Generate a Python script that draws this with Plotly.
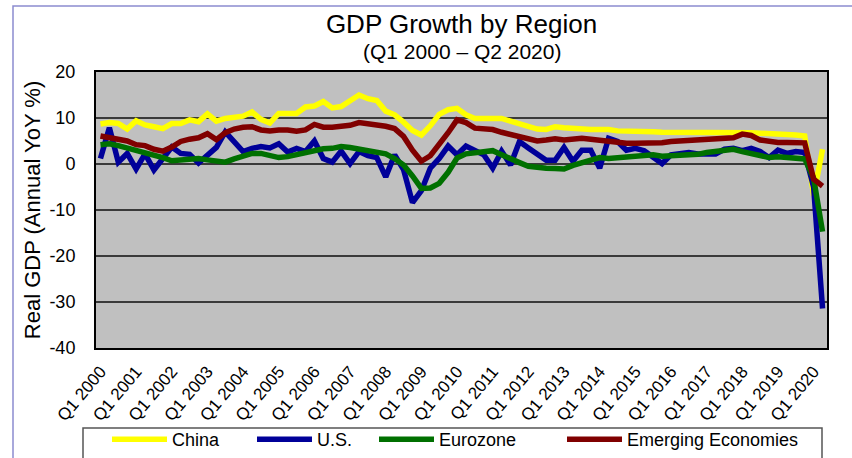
import plotly.graph_objects as go

# quarters Q1 2000 .. Q2 2020
quarters = [f"Q{q} {y}" for y in range(2000, 2021) for q in range(1, 5)][:82]

china = [8.7, 9.0, 8.8, 7.6, 9.4, 8.5, 8.1, 7.7, 8.8, 8.8, 9.6, 9.2, 10.9, 9.3,
         9.9, 10.1, 10.4, 11.3, 9.7, 8.9, 11.0, 11.0, 11.0, 12.4, 12.6, 13.6, 12.2, 12.5,
         13.8, 15.0, 14.2, 13.8, 11.5, 10.7, 9.1, 7.3, 6.3, 8.3, 10.8, 11.8, 12.1,
         10.7, 9.9, 9.9, 10.1, 9.9, 9.3, 8.8, 8.3, 7.6, 7.5, 8.1, 7.9, 7.7,
         7.8, 7.5, 7.5, 7.5, 7.2, 7.2, 7.1, 7.0, 7.0, 6.9, 6.9, 6.9, 6.9, 6.9,
         7.0, 7.0, 6.9, 6.9, 7.0, 6.8, 6.7, 6.5, 6.4, 6.4, 6.3, 6.1, -6.8, 3.2]

us = [1.2, 7.9, 0.4, 2.3, -1.1, 2.2, -1.3, 1.2, 3.7, 2.3, 2.1, 0.2, 2.0,
      3.6, 7.0, 4.9, 2.7, 3.4, 3.8, 3.5, 4.4, 2.6, 3.4, 2.7, 5.0, 1.2, 0.4, 2.8,
      0.1, 2.7, 1.8, 1.4, -2.8, 2.0, -1.2, -8.4, -5.8, -0.9, 1.2, 3.9, 2.0,
      3.9, 2.9, 2.0, -0.9, 2.8, -0.2, 4.9, 3.5, 2.1, 0.8, 0.8, 3.6, 0.6,
      3.0, 3.0, -0.9, 5.6, 4.9, 3.0, 3.4, 2.9, 1.6, 0.1, 2.0, 2.2, 2.5, 2.2,
      2.2, 2.2, 3.2, 3.4, 2.9, 3.4, 2.7, 1.4, 3.0, 2.3, 2.7, 2.5, -5.0, -31.4]

eurozone = [4.2, 4.4, 4.0, 3.5, 3.1, 2.6, 2.0, 1.4, 0.7, 0.9, 1.1, 1.2, 0.9, 0.5,
            0.4, 1.1, 1.8, 2.3, 2.3, 2.0, 1.4, 1.6, 2.0, 2.3, 3.0, 3.3, 3.4, 3.8,
            3.6, 3.2, 3.0, 2.4, 2.2, 1.2, -0.2, -2.6, -5.3, -5.2, -4.2, -1.8, 1.3,
            2.2, 2.5, 2.5, 2.9, 2.0, 1.3, 0.3, -0.5, -0.8, -0.9, -1.0, -1.1, -0.3,
            0.2, 0.7, 1.4, 1.2, 1.4, 1.6, 1.7, 2.0, 2.0, 1.7, 1.8, 1.9, 2.0, 2.1,
            2.5, 2.7, 3.0, 3.2, 2.7, 2.3, 2.0, 1.4, 1.6, 1.4, 1.4, 1.1, -3.1, -14.7]

emerging = [6.1, 5.8, 5.5, 5.0, 4.2, 4.0, 3.2, 2.8, 3.7, 4.9, 5.4, 5.7, 6.6, 5.3,
            6.8, 7.6, 8.0, 8.1, 7.4, 7.2, 7.4, 7.4, 7.1, 7.4, 8.6, 8.0, 8.0, 8.1,
            8.4, 9.0, 8.8, 8.7, 8.2, 7.7, 6.0, 3.0, 0.6, 1.8, 4.2, 6.8, 9.6,
            9.0, 7.8, 7.6, 7.5, 6.9, 6.5, 6.0, 5.5, 5.0, 5.2, 5.5, 5.2, 5.5,
            5.6, 5.4, 5.1, 5.0, 4.7, 4.5, 4.5, 4.5, 4.5, 4.6, 4.9, 5.0, 5.1, 5.2,
            5.4, 5.5, 5.6, 5.7, 6.5, 6.2, 5.2, 4.9, 4.7, 4.7, 4.6, 4.6, -3.3, -4.8]

y_ticks = [20, 10, 0, -10, -20, -30, -40]
x_ticks = quarters[::4]

W, H = 852, 458
L, R, T, B = 96, 827, 72, 348   # plot area in pixels
LEG_TOP = 421
font = 'Liberation Sans, Arial, sans-serif'
idx = list(range(len(quarters)))

px = lambda x: (x - L) / (R - L)
py = lambda y: (B - y) / (B - T)

series = [('China', china, '#FFFF00', 107),
          ('U.S.', us, '#000099', 252),
          ('Eurozone', eurozone, '#007000', 374),
          ('Emerging Economies', emerging, '#800000', 562)]

fig = go.Figure()
legends = {}
for k, (name, vals, col, lx) in enumerate(series):
    lname = 'legend' if k == 0 else f'legend{k + 1}'
    fig.add_trace(go.Scatter(x=idx, y=vals, mode='lines', name=name, legend=lname,
                             line=dict(color=col, width=5.5)))
    legends[lname] = dict(x=px(lx), xanchor='left', yref='container', y=1 - LEG_TOP / H,
                          yanchor='top', orientation='h', bgcolor='rgba(0,0,0,0)',
                          borderwidth=0, font=dict(size=18, color='black'), itemwidth=55)

fig.update_xaxes(range=[-0.5, len(quarters) - 0.5],
                 tickmode='array', tickvals=idx[::4], ticktext=x_ticks,
                 tickangle=-50, tickfont=dict(size=17, color='black'),
                 ticklabelstandoff=5,
                 showgrid=False, showline=True, mirror=True, automargin=False,
                 linecolor='black', linewidth=2, ticks='', zeroline=False)
fig.update_yaxes(range=[-40, 20], tickmode='array', tickvals=y_ticks,
                 ticktext=[str(v) for v in y_ticks],
                 tickfont=dict(size=18, color='black'),
                 showgrid=True, gridcolor='#3a3a3a', gridwidth=1.5,
                 showline=True, mirror=True, linecolor='black', linewidth=2,
                 zeroline=False, ticks='', ticklabelstandoff=15, automargin=False,
                 title=dict(text='Real GDP (Annual YoY %)', font=dict(size=22, color='black'),
                            standoff=3))

# category axis drawn at zero with tick marks between quarters
fig.update_layout(xaxis2=dict(overlaying='x', anchor='free', position=2 / 3,
                              range=[-0.5, len(quarters) - 0.5], tickmode='array',
                              tickvals=[i - 0.5 for i in range(1, len(quarters))],
                              ticks='outside', ticklen=5, tickwidth=1, tickcolor='black',
                              showticklabels=False, showline=True, linecolor='black',
                              linewidth=1.5, showgrid=False, zeroline=False,
                              automargin=False))

fig.update_layout(
    width=W, height=H,
    margin=dict(l=L, r=W - R, t=T, b=H - B),
    plot_bgcolor='#C0C0C0', paper_bgcolor='white',
    font=dict(family=font, color='black'),
    title=dict(text="GDP Growth by Region", x=0.5, xref='paper', xanchor='center',
               y=1 - 15 / H, yref='container', yanchor='top',
               font=dict(size=26, color='black')),
    annotations=[dict(text='(Q1 2000 – Q2 2020)', xref='paper', yref='paper',
                      x=0.5, y=py(52), xanchor='center', yanchor='middle',
                      showarrow=False, font=dict(size=21, color='black'))],
    showlegend=True,
    shapes=[dict(type='rect', xref='paper', yref='paper',
                 x0=px(13), x1=1.2, y0=-0.6, y1=py(6),
                 line=dict(color='#8C8CD0', width=1.5), layer='below'),
            dict(type='rect', xref='paper', yref='paper',
                 x0=px(83), x1=px(822), y0=py(475), y1=py(428),
                 line=dict(color='#555555', width=1.5), fillcolor='white', layer='above')],
    **legends,
)

fig.write_html("out.html", config={'displayModeBar': False},
               post_script="document.body.style.margin='0';")
